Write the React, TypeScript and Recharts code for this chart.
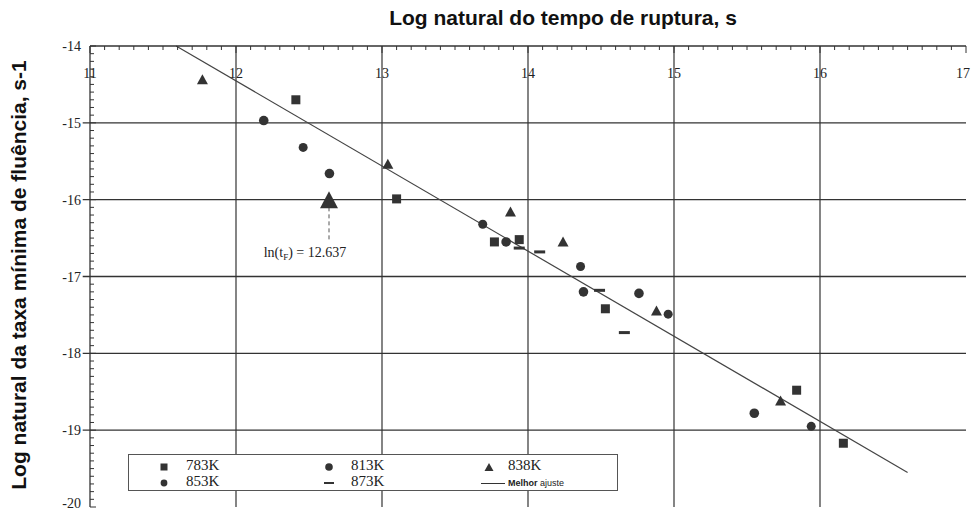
import React from "react";
import { ScatterChart, Scatter, XAxis, YAxis, ReferenceLine } from "recharts";

// ---- data ----
const s783 = [
  { x: 12.41, y: -14.7 },
  { x: 13.1, y: -15.99 },
  { x: 13.77, y: -16.55 },
  { x: 13.94, y: -16.52 },
  { x: 14.53, y: -17.42 },
  { x: 15.84, y: -18.48 },
  { x: 16.16, y: -19.17 },
];
const s813 = [
  { x: 12.19, y: -14.97 },
  { x: 12.64, y: -15.66 },
  { x: 13.85, y: -16.55 },
  { x: 14.38, y: -17.2 },
  { x: 14.76, y: -17.22 },
  { x: 15.55, y: -18.78 },
];
const s838 = [
  { x: 11.77, y: -14.44 },
  { x: 13.04, y: -15.54 },
  { x: 13.88, y: -16.16 },
  { x: 14.24, y: -16.55 },
  { x: 14.88, y: -17.45 },
  { x: 15.73, y: -18.62 },
];
const s853 = [
  { x: 12.46, y: -15.32 },
  { x: 13.69, y: -16.32 },
  { x: 14.36, y: -16.87 },
  { x: 14.96, y: -17.49 },
  { x: 15.94, y: -18.95 },
];
const s873 = [
  { x: 13.94, y: -16.63 },
  { x: 14.08, y: -16.68 },
  { x: 14.49, y: -17.18 },
  { x: 14.66, y: -17.73 },
];
const fitLine = [
  { x: 11.59, y: -14 },
  { x: 16.6, y: -19.55 },
];
const tfPoint = [{ x: 12.637, y: -16.02 }];
const tfLabelPoint = [{ x: 12.637, y: -16.68 }];
const tfGuide = [
  { x: 12.637, y: -16.1 },
  { x: 12.637, y: -16.55 },
];
const tfText = "12.637";

const xGrid = [12, 13, 14, 15, 16];
const yGrid = [-19, -18, -17, -16, -15];
const xTicks: number[] = [];
for (let i = 110; i <= 170; i++) xTicks.push(i / 10);
const yTicks: number[] = [];
for (let i = -200; i <= -140; i++) yTicks.push(i / 10);

const legendItems = [
  { name: "783K", shape: "square" },
  { name: "813K", shape: "circle" },
  { name: "838K", shape: "triangle" },
  { name: "853K", shape: "circle-small" },
  { name: "873K", shape: "dash" },
];

const title = "Log natural do tempo de ruptura, s";
const yTitle = "Log natural da taxa mínima de fluência, s-1";

// ---- styles ----
const INK = "#333";
const SERIF = "'Liberation Serif', 'DejaVu Serif', serif";
const SANS = "'Liberation Sans', Arial, sans-serif";

const isInt = (v: number) => Math.abs(v - Math.round(v)) < 1e-6;

const XTick = (props: any) => {
  const { x, y, payload } = props;
  const v = payload.value;
  const major = isInt(v);
  const last = v >= 17;
  return (
    <g>
      <line x1={x} y1={y} x2={x} y2={y + (major ? 7 : 4)} stroke={INK} strokeWidth={1} />
      {major && (
        <text
          x={last ? x + 4 : x}
          y={y + 32}
          textAnchor={last ? "end" : "middle"}
          fontFamily={SERIF}
          fontSize={14}
          fill="#222"
        >
          {String(v)}
        </text>
      )}
    </g>
  );
};

const YTick = (props: any) => {
  const { x, y, payload } = props;
  const v = payload.value;
  const major = isInt(v);
  const bottom = v <= -20;
  return (
    <g>
      <line x1={x} y1={y} x2={x + (major ? 6 : 4)} y2={y} stroke={INK} strokeWidth={1} />
      {major && (
        <text x={x - 9} y={bottom ? y + 1 : y + 5} textAnchor="end" fontFamily={SERIF} fontSize={14} fill="#222">
          {"-" + String(Math.abs(v))}
        </text>
      )}
    </g>
  );
};

const Square = (p: any) => <rect x={p.cx - 4.5} y={p.cy - 4.5} width={9} height={9} fill={INK} />;
const Circle = (p: any) => <circle cx={p.cx} cy={p.cy} r={4.8} fill={INK} />;
const SmallCircle = (p: any) => <circle cx={p.cx} cy={p.cy} r={4.5} fill={INK} />;
const Tri = (p: any) => (
  <polygon points={`${p.cx},${p.cy - 5.5} ${p.cx + 5.5},${p.cy + 4.5} ${p.cx - 5.5},${p.cy + 4.5}`} fill={INK} />
);
const BigTri = (p: any) => (
  <polygon points={`${p.cx},${p.cy - 10} ${p.cx + 9},${p.cy + 7} ${p.cx - 9},${p.cy + 7}`} fill={INK} />
);
const Dash = (p: any) => <rect x={p.cx - 5.5} y={p.cy - 1.5} width={11} height={3} fill={INK} />;
const TfLabel = (p: any) => (
  <text x={p.cx - 24} y={p.cy + 5} textAnchor="middle" fontFamily={SERIF} fontSize={14} fill="#222">
    ln(t
    <tspan fontSize={9} dy={3}>F</tspan>
    <tspan dy={-3}>{") = " + tfText}</tspan>
  </text>
);

const LegendMarker = ({ shape }: { shape: string }) => (
  <svg width={12} height={12} style={{ display: "block" }}>
    {shape === "square" && <rect x={2.5} y={2.5} width={7} height={7} fill={INK} />}
    {shape === "circle" && <circle cx={6} cy={6} r={3.8} fill={INK} />}
    {shape === "circle-small" && <circle cx={6} cy={6} r={3.4} fill={INK} />}
    {shape === "triangle" && <polygon points="6,2 10.5,10 1.5,10" fill={INK} />}
    {shape === "dash" && <rect x={1} y={5} width={10} height={2} fill={INK} />}
  </svg>
);

const legendPos = [
  { mx: 29, tx: 57, y: 4 },
  { mx: 194, tx: 222, y: 4 },
  { mx: 354, tx: 379, y: 4 },
  { mx: 29, tx: 57, y: 20 },
  { mx: 194, tx: 222, y: 20 },
];

export default function App() {
  return (
    <div style={{ position: "absolute", left: 0, top: 0, width: 971, height: 513, background: "#fff", overflow: "hidden" }}>
      <ScatterChart width={971} height={513} margin={{ top: 16, left: 50, right: 5, bottom: 6 }}>
        <XAxis
          type="number"
          dataKey="x"
          orientation="top"
          domain={[11, 17]}
          ticks={xTicks}
          interval={0}
          height={30}
          tickSize={0}
          tickMargin={0}
          tick={<XTick />}
          axisLine={{ stroke: INK, strokeWidth: 1.3 }}
          allowDataOverflow
        />
        <YAxis
          type="number"
          dataKey="y"
          domain={[-20, -14]}
          ticks={yTicks}
          interval={0}
          width={40}
          tickSize={0}
          tickMargin={0}
          tick={<YTick />}
          axisLine={{ stroke: INK, strokeWidth: 1.3 }}
          allowDataOverflow
        />
        {yGrid.map((v) => (
          <ReferenceLine
            key={"h" + v}
            segment={[{ x: 10.95, y: v }, { x: 17, y: v }]}
            stroke={INK}
            strokeWidth={1.4}
            ifOverflow="visible"
          />
        ))}
        {xGrid.map((v) => (
          <ReferenceLine key={"v" + v} x={v} stroke={INK} strokeWidth={1.2} />
        ))}
        <ReferenceLine segment={fitLine} stroke="#444" strokeWidth={1.2} ifOverflow="visible" />
        <ReferenceLine segment={tfGuide} stroke="#555" strokeWidth={1} strokeDasharray="4 3" />
        <Scatter data={s783} shape={<Square />} isAnimationActive={false} />
        <Scatter data={s813} shape={<Circle />} isAnimationActive={false} />
        <Scatter data={s838} shape={<Tri />} isAnimationActive={false} />
        <Scatter data={s853} shape={<SmallCircle />} isAnimationActive={false} />
        <Scatter data={s873} shape={<Dash />} isAnimationActive={false} />
        <Scatter data={tfPoint} shape={<BigTri />} isAnimationActive={false} />
        <Scatter data={tfLabelPoint} shape={<TfLabel />} isAnimationActive={false} />
      </ScatterChart>

      <div
        style={{
          position: "absolute",
          left: 563,
          top: 5,
          transform: "translateX(-50%)",
          whiteSpace: "nowrap",
          fontFamily: SANS,
          fontWeight: "bold",
          fontSize: 21,
          lineHeight: "26px",
          color: "#111",
        }}
      >
        {title}
      </div>
      <div
        style={{
          position: "absolute",
          left: 19 - 250,
          top: 275 - 13,
          width: 500,
          height: 26,
          lineHeight: "26px",
          textAlign: "center",
          transform: "rotate(-90deg)",
          whiteSpace: "nowrap",
          fontFamily: SANS,
          fontWeight: "bold",
          fontSize: 21,
          color: "#111",
        }}
      >
        {yTitle}
      </div>

      <div
        style={{
          position: "absolute",
          left: 128,
          top: 454,
          width: 490,
          height: 37,
          border: "1px solid #555",
          background: "#fff",
          boxSizing: "border-box",
        }}
      >
        {legendItems.map((it, i) => (
          <React.Fragment key={it.name}>
            <div style={{ position: "absolute", left: legendPos[i].mx, top: legendPos[i].y + 2 }}>
              <LegendMarker shape={it.shape} />
            </div>
            <div
              style={{
                position: "absolute",
                left: legendPos[i].tx,
                top: legendPos[i].y - 2,
                fontFamily: SERIF,
                fontSize: 15,
                lineHeight: "17px",
                color: "#222",
              }}
            >
              {it.name}
            </div>
          </React.Fragment>
        ))}
        <div style={{ position: "absolute", left: 352, top: 28, width: 24, height: 1, background: "#333" }} />
        <div
          style={{
            position: "absolute",
            left: 379,
            top: 22,
            fontFamily: SANS,
            fontSize: 9,
            lineHeight: "12px",
            color: "#222",
          }}
        >
          <b>Melhor</b> ajuste
        </div>
      </div>
    </div>
  );
}
